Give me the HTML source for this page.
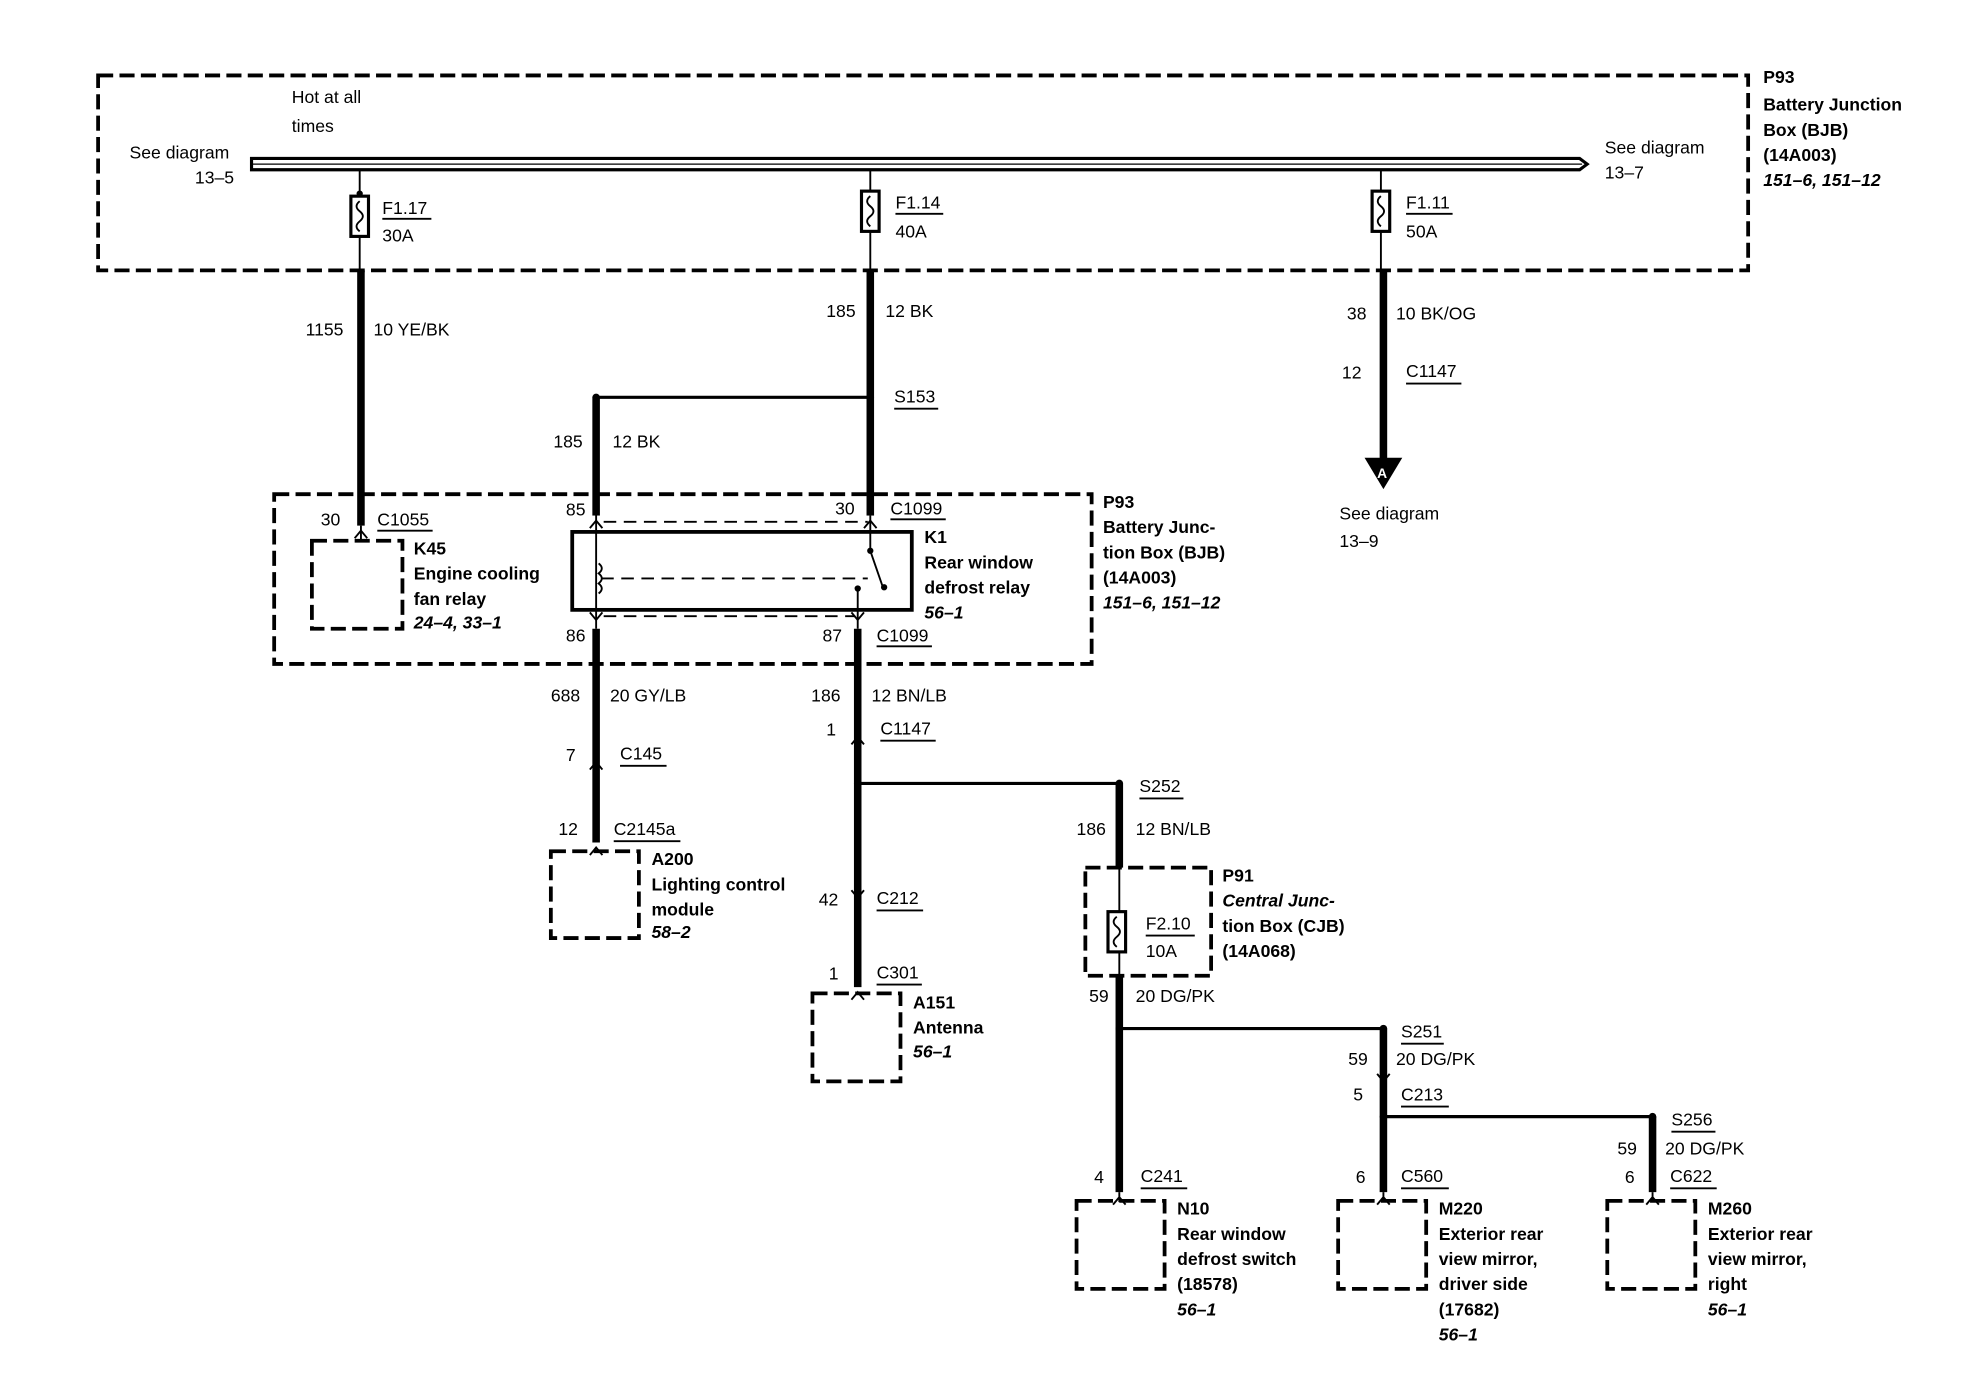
<!DOCTYPE html>
<html><head><meta charset="utf-8"><style>
html,body{margin:0;padding:0;background:#fff;}
svg{display:block;}
text{font-family:"Liberation Sans",Arial,sans-serif;font-size:14px;fill:#000;}
.b{font-weight:bold;}
.i{font-weight:bold;font-style:italic;}
.dash{fill:none;stroke:#000;stroke-width:3;stroke-dasharray:12,5;}
.thin{stroke:#000;stroke-width:1.5;fill:none;}
.thick{stroke:#000;stroke-width:6;fill:none;}
.med{stroke:#000;stroke-width:2.5;fill:none;}
.ul{stroke:#000;stroke-width:1.5;}
</style></head><body>
<svg width="1972" height="1392" viewBox="0 0 1568 1107" preserveAspectRatio="none" xmlns="http://www.w3.org/2000/svg">
<rect width="1568" height="1107" fill="#fff"/>
<rect class="dash" x="78" y="60" width="1312" height="155"/>
<text class="b" x="1402" y="66">P93</text>
<text class="b" x="1402" y="88">Battery Junction</text>
<text class="b" x="1402" y="108">Box (BJB)</text>
<text class="b" x="1402" y="128">(14A003)</text>
<text class="i" x="1402" y="148">151–6, 151–12</text>
<text x="232" y="82">Hot at all</text>
<text x="232" y="105">times</text>
<text x="103" y="126">See diagram</text>
<text x="155" y="146">13–5</text>
<text x="1276" y="122">See diagram</text>
<text x="1276" y="142">13–7</text>
<path d="M200,126 L1256,126 L1262,130.5 L1256,135 L200,135 Z" fill="#fff" stroke="#000" stroke-width="2.5"/>
<line x1="200" y1="130.5" x2="1258" y2="130.5" stroke="#000" stroke-width="1"/>
<g>
<line class="thin" x1="286" y1="135" x2="286" y2="215"/>
<rect x="279" y="156" width="14" height="32" fill="#fff" stroke="#000" stroke-width="2.5"/>
<path class="thin" d="M286,160 q-5,4 0,8 q5,4 0,8 q-5,4 0,8"/>
<circle cx="286" cy="154" r="2.5"/>
<text x="304" y="170">F1.17</text><line class="ul" x1="304" y1="174" x2="343" y2="174"/>
<text x="304" y="192">30A</text>
</g>
<g>
<line class="thin" x1="692" y1="135" x2="692" y2="215"/>
<rect x="685" y="152" width="14" height="32" fill="#fff" stroke="#000" stroke-width="2.5"/>
<path class="thin" d="M692,156 q-5,4 0,8 q5,4 0,8 q-5,4 0,8"/>
<text x="712" y="166">F1.14</text><line class="ul" x1="712" y1="170" x2="750" y2="170"/>
<text x="712" y="189">40A</text>
</g>
<g>
<line class="thin" x1="1098" y1="135" x2="1098" y2="215"/>
<rect x="1091" y="152" width="14" height="32" fill="#fff" stroke="#000" stroke-width="2.5"/>
<path class="thin" d="M1098,156 q-5,4 0,8 q5,4 0,8 q-5,4 0,8"/>
<text x="1118" y="166">F1.11</text><line class="ul" x1="1118" y1="170" x2="1155" y2="170"/>
<text x="1118" y="189">50A</text>
</g>
<line class="thick" x1="287" y1="215" x2="287" y2="418"/>
<line class="thin" x1="287" y1="418" x2="287" y2="430"/>
<path class="thin" d="M282,428 L287,422 L292,428"/>
<text x="243" y="267">1155</text><text x="297" y="267">10 YE/BK</text>
<line class="thick" x1="692" y1="215" x2="692" y2="398"/>
<text x="657" y="252">185</text><text x="704" y="252">12 BK</text>
<circle cx="692" cy="316" r="3"/>
<line class="med" x1="474" y1="316" x2="692" y2="316"/>
<circle cx="474" cy="316" r="3"/>
<text x="711" y="320">S153</text><line class="ul" x1="711" y1="325" x2="746" y2="325"/>
<line class="thick" x1="474" y1="316" x2="474" y2="398"/>
<text x="440" y="356">185</text><text x="487" y="356">12 BK</text>
<line class="thick" x1="1100" y1="215" x2="1100" y2="366"/>
<text x="1071" y="254">38</text><text x="1110" y="254">10 BK/OG</text>
<text x="1067" y="301">12</text><text x="1118" y="300">C1147</text><line class="ul" x1="1118" y1="305" x2="1162" y2="305"/>
<path d="M1085,364 L1115,364 L1100,389 Z"/>
<text x="1095" y="380" style="font-size:11px;fill:#fff;font-weight:bold">A</text>
<text x="1065" y="413">See diagram</text>
<text x="1065" y="435">13–9</text>
<rect class="dash" x="218" y="393" width="650" height="135"/>
<text class="b" x="877" y="404">P93</text>
<text class="b" x="877" y="424">Battery Junc-</text>
<text class="b" x="877" y="444">tion Box (BJB)</text>
<text class="b" x="877" y="464">(14A003)</text>
<text class="i" x="877" y="484">151–6, 151–12</text>
<rect class="dash" x="248" y="430" width="72" height="70"/>
<text x="255" y="418">30</text><text x="300" y="418">C1055</text><line class="ul" x1="300" y1="422" x2="344" y2="422"/>
<text class="b" x="329" y="441">K45</text>
<text class="b" x="329" y="461">Engine cooling</text>
<text class="b" x="329" y="481">fan relay</text>
<text class="i" x="329" y="500">24–4, 33–1</text>
<line class="thick" x1="474" y1="398" x2="474" y2="410"/>
<line class="thick" x1="692" y1="398" x2="692" y2="410"/>
<line class="thin" x1="474" y1="410" x2="474" y2="500"/>
<line class="thin" x1="692" y1="410" x2="692" y2="438"/>
<line class="thin" x1="682" y1="468" x2="682" y2="500"/>
<path class="thin" d="M469,420 L474,414 L479,420 M687,420 L692,414 L697,420"/>
<path class="thin" d="M469,487 L474,493 L479,487 M677,487 L682,493 L687,487"/>
<line class="thin" x1="480" y1="415" x2="690" y2="415" stroke-dasharray="10,6"/>
<line class="thin" x1="480" y1="490" x2="680" y2="490" stroke-dasharray="10,6"/>
<rect x="455" y="423" width="270" height="62" fill="none" stroke="#000" stroke-width="3"/>
<path class="thin" d="M476,448 q5,4 0,8 q5,4 0,8 q5,4 0,8"/>
<line class="thin" x1="478" y1="460" x2="690" y2="460" stroke-dasharray="10,6"/>
<path class="thin" d="M692,438 L702,467"/>
<circle cx="692" cy="438" r="2.5"/><circle cx="703" cy="467" r="2.5"/><circle cx="682" cy="468" r="2.5"/>
<text x="450" y="410">85</text>
<text x="664" y="409">30</text><text x="708" y="409">C1099</text><line class="ul" x1="708" y1="413" x2="752" y2="413"/>
<text x="450" y="510">86</text>
<text x="654" y="510">87</text><text x="697" y="510">C1099</text><line class="ul" x1="697" y1="514" x2="741" y2="514"/>
<text class="b" x="735" y="432">K1</text>
<text class="b" x="735" y="452">Rear window</text>
<text class="b" x="735" y="472">defrost relay</text>
<text class="i" x="735" y="492">56–1</text>
<line class="thick" x1="474" y1="500" x2="474" y2="670"/>
<path class="thin" d="M469,612 L474,606 L479,612 M469,680 L474,674 L479,680"/>
<text x="438" y="558">688</text><text x="485" y="558">20 GY/LB</text>
<text x="450" y="605">7</text><text x="493" y="604">C145</text><line class="ul" x1="493" y1="609" x2="530" y2="609"/>
<text x="444" y="664">12</text><text x="488" y="664">C2145a</text><line class="ul" x1="488" y1="669" x2="541" y2="669"/>
<rect class="dash" x="438" y="677" width="70" height="69"/>
<text class="b" x="518" y="688">A200</text>
<text class="b" x="518" y="708">Lighting control</text>
<text class="b" x="518" y="728">module</text>
<text class="i" x="518" y="746">58–2</text>
<line class="thick" x1="682" y1="500" x2="682" y2="785"/>
<path class="thin" d="M677,592 L682,586 L687,592 M677,708 L682,714 L687,708 M677,795 L682,789 L687,795"/>
<text x="645" y="558">186</text><text x="693" y="558">12 BN/LB</text>
<text x="657" y="585">1</text><text x="700" y="584">C1147</text><line class="ul" x1="700" y1="589" x2="744" y2="589"/>
<circle cx="682" cy="623" r="3"/>
<line class="med" x1="682" y1="623" x2="890" y2="623"/>
<circle cx="890" cy="623" r="3"/>
<text x="906" y="630">S252</text><line class="ul" x1="906" y1="635" x2="941" y2="635"/>
<text x="651" y="720">42</text><text x="697" y="719">C212</text><line class="ul" x1="697" y1="724" x2="734" y2="724"/>
<text x="659" y="779">1</text><text x="697" y="778">C301</text><line class="ul" x1="697" y1="783" x2="733" y2="783"/>
<rect class="dash" x="646" y="790" width="70" height="70"/>
<text class="b" x="726" y="802">A151</text>
<text class="b" x="726" y="822">Antenna</text>
<text class="i" x="726" y="841">56–1</text>
<line class="thick" x1="890" y1="623" x2="890" y2="690"/>
<text x="856" y="664">186</text><text x="903" y="664">12 BN/LB</text>
<rect class="dash" x="863" y="690" width="100" height="86"/>
<line class="thin" x1="890" y1="690" x2="890" y2="776"/>
<rect x="881" y="725" width="14" height="32" fill="#fff" stroke="#000" stroke-width="2.5"/>
<path class="thin" d="M888,729 q-5,4 0,8 q5,4 0,8 q-5,4 0,8"/>
<text x="911" y="739">F2.10</text><line class="ul" x1="911" y1="744" x2="950" y2="744"/>
<text x="911" y="761">10A</text>
<text class="b" x="972" y="701">P91</text>
<text class="i" x="972" y="721">Central Junc-</text>
<text class="b" x="972" y="741">tion Box (CJB)</text>
<text class="b" x="972" y="761">(14A068)</text>
<line class="thick" x1="890" y1="776" x2="890" y2="948"/>
<text x="866" y="797">59</text><text x="903" y="797">20 DG/PK</text>
<circle cx="890" cy="818" r="3"/>
<line class="med" x1="890" y1="818" x2="1100" y2="818"/>
<circle cx="1100" cy="818" r="3"/>
<text x="1114" y="825">S251</text><line class="ul" x1="1114" y1="830" x2="1148" y2="830"/>
<line class="thick" x1="1100" y1="818" x2="1100" y2="948"/>
<path class="thin" d="M1095,854 L1100,860 L1105,854"/>
<text x="1072" y="847">59</text><text x="1110" y="847">20 DG/PK</text>
<text x="1076" y="875">5</text><text x="1114" y="875">C213</text><line class="ul" x1="1114" y1="880" x2="1152" y2="880"/>
<circle cx="1100" cy="888" r="3"/>
<line class="med" x1="1100" y1="888" x2="1314" y2="888"/>
<circle cx="1314" cy="888" r="3"/>
<text x="1329" y="895">S256</text><line class="ul" x1="1329" y1="900" x2="1364" y2="900"/>
<line class="thick" x1="1314" y1="888" x2="1314" y2="948"/>
<text x="1286" y="918">59</text><text x="1324" y="918">20 DG/PK</text>
<path class="thin" d="M890,948 L890,956 M885,958 L890,952 L895,958 M1100,948 L1100,956 M1095,958 L1100,952 L1105,958 M1314,948 L1314,956 M1309,958 L1314,952 L1319,958"/>
<text x="870" y="941">4</text><text x="907" y="940">C241</text><line class="ul" x1="907" y1="945" x2="944" y2="945"/>
<text x="1078" y="941">6</text><text x="1114" y="940">C560</text><line class="ul" x1="1114" y1="945" x2="1152" y2="945"/>
<text x="1292" y="941">6</text><text x="1328" y="940">C622</text><line class="ul" x1="1328" y1="945" x2="1365" y2="945"/>
<rect class="dash" x="856" y="955" width="70" height="70"/>
<text class="b" x="936" y="966">N10</text>
<text class="b" x="936" y="986">Rear window</text>
<text class="b" x="936" y="1006">defrost switch</text>
<text class="b" x="936" y="1026">(18578)</text>
<text class="i" x="936" y="1046">56–1</text>
<rect class="dash" x="1064" y="955" width="70" height="70"/>
<text class="b" x="1144" y="966">M220</text>
<text class="b" x="1144" y="986">Exterior rear</text>
<text class="b" x="1144" y="1006">view mirror,</text>
<text class="b" x="1144" y="1026">driver side</text>
<text class="b" x="1144" y="1046">(17682)</text>
<text class="i" x="1144" y="1066">56–1</text>
<rect class="dash" x="1278" y="955" width="70" height="70"/>
<text class="b" x="1358" y="966">M260</text>
<text class="b" x="1358" y="986">Exterior rear</text>
<text class="b" x="1358" y="1006">view mirror,</text>
<text class="b" x="1358" y="1026">right</text>
<text class="i" x="1358" y="1046">56–1</text>
</svg>
</body></html>
